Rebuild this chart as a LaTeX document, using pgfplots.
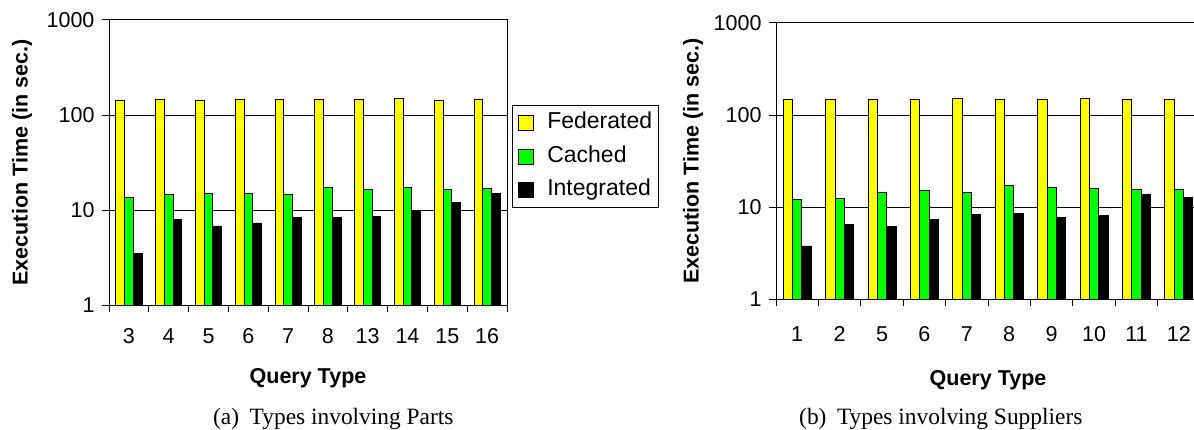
\documentclass[border=0pt]{standalone}
\usepackage{fontspec}
\setmainfont{Liberation Sans}
\newfontfamily\seriffont{Liberation Serif}
\usepackage{pgfplots}
\usepackage{pgfplotstable}
\pgfplotsset{compat=1.18}

\pgfplotstableread{
x fed cac int
0 143 13.7 3.47
1 147 14.6 7.9
2 143 15.1 6.8
3 147 15.1 7.3
4 147 14.6 8.4
5 147 17.1 8.4
6 147 16.4 8.6
7 150 17.4 9.6
8 143 16.4 11.9
9 147 16.8 14.8
}\partsdata

\pgfplotstableread{
x fed cac int
0 147 12.1 3.77
1 147 12.4 6.5
2 147 14.4 6.1
3 147 15.2 7.4
4 150 14.4 8.3
5 147 17.1 8.5
6 147 16.2 7.7
7 150 15.8 8.1
8 147 15.4 13.8
9 147 15.4 12.8
}\suppdata

\definecolor{fedc}{RGB}{255,255,0}
\definecolor{cacc}{RGB}{0,255,0}
\definecolor{intc}{RGB}{0,0,0}

\pgfplotsset{
  mystyle/.style={
    scale only axis,
    anchor=south west,
    ybar=0pt, bar width=0.22,
    ymin=1, ymax=1000,
    xmin=-0.5, xmax=9.5,
    ytick={1,10,100,1000}, yticklabels={1,10,100,1000},
    yminorticks=false,
    xtick={-0.5,0.5,...,9.5}, xticklabels={},
    extra x ticks={0,1,2,3,4,5,6,7,8,9},
    extra x tick style={tick style={draw=none}},
    tick pos=left,
    tick align=outside, major tick length=7pt,
    tick style={black, line width=1pt},
    axis line style={black, line width=1pt},
    ymajorgrids, grid style={black, line width=1pt},
    /pgf/number format/assume math mode=true,
    tick label style={font=\fontsize{21.5}{24}\selectfont},
    label style={font=\fontsize{21.5}{24}\selectfont\bfseries, inner sep=0pt},
    xlabel style={anchor=north, at={(axis description cs:0.5,0)}},
    ylabel style={anchor=center},
    yticklabel style={xshift=-4pt},
    every axis plot/.append style={draw=black, line width=0.8pt},
    legend image code/.code={\draw[#1, line width=0.8pt] (0pt,-7.5pt) rectangle (15pt,7.5pt); \path (28pt,0pt);},
  }
}

\begin{document}
\begin{tikzpicture}
\useasboundingbox (0pt,0pt) rectangle (1194pt,429pt);

\begin{axis}[ymode=log, mystyle,
  at={(109pt,124pt)}, width=398pt, height=285pt,
  extra x tick labels={3,4,5,6,7,8,13,14,15,16},
  xticklabel style={yshift=-13pt},
  xlabel={Query Type},
  xlabel style={yshift=-63pt},
  ylabel={Execution Time (in sec.)},
  ylabel style={at={(axis description cs:-0.2186,0.5)}},
  legend style={at={(1,1)}, anchor=north west, xshift=5pt, yshift=-85pt,
    draw=black, line width=1pt, font=\fontsize{23}{26}\selectfont,
    inner xsep=6pt, inner ysep=7pt, row sep=12.5pt,
    nodes={inner sep=0pt, text height=16pt, text depth=5pt}},
  legend cell align=left,
]
\addplot[fill=fedc] table[x=x, y=fed] {\partsdata};
\addplot[fill=cacc] table[x=x, y=cac] {\partsdata};
\addplot[fill=intc] table[x=x, y=int] {\partsdata};
\legend{Federated, Cached, Integrated}
\end{axis}

\begin{axis}[ymode=log, mystyle,
  at={(776pt,130pt)}, width=424pt, height=276pt,
  extra x tick labels={1,2,5,6,7,8,9,10,11,12},
  xticklabel style={yshift=-17pt},
  xlabel={Query Type},
  xlabel style={yshift=-71pt},
  ylabel={Execution Time (in sec.)},
  ylabel style={at={(axis description cs:-0.1958,0.5)}},
]
\addplot[fill=fedc] table[x=x, y=fed] {\suppdata};
\addplot[fill=cacc] table[x=x, y=cac] {\suppdata};
\addplot[fill=intc] table[x=x, y=int] {\suppdata};
\end{axis}

\node[anchor=base west, inner sep=0pt, font=\seriffont\fontsize{23.4}{26}\selectfont] at (213pt,5pt) {(a)\hspace{0.45em}Types involving Parts};
\node[anchor=base west, inner sep=0pt, font=\seriffont\fontsize{23.4}{26}\selectfont] at (799pt,5pt) {(b)\hspace{0.45em}Types involving Suppliers};
\end{tikzpicture}
\end{document}
